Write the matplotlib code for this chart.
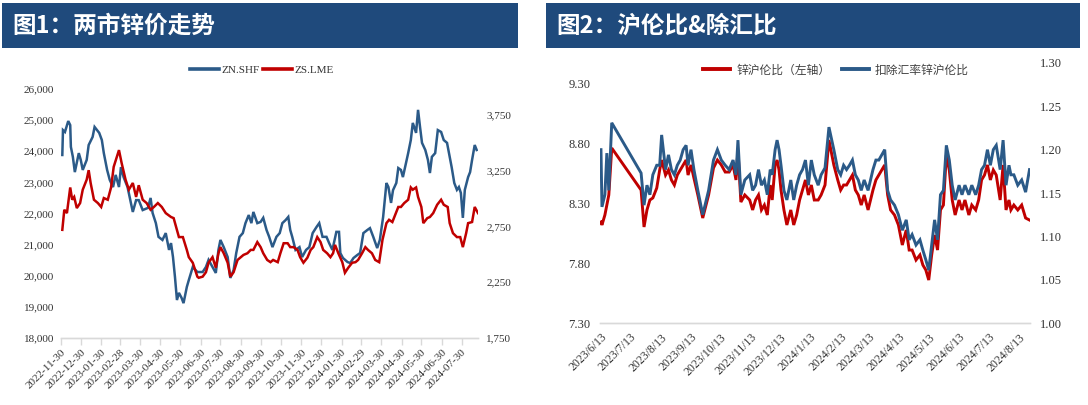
import matplotlib
matplotlib.use('Agg')
import matplotlib.pyplot as plt
import pandas as pd
from matplotlib.patches import Rectangle
from matplotlib.lines import Line2D
from matplotlib.ticker import FuncFormatter

# ---------------- data: chart 1 ----------------
title1 = "图1：两市锌价走势"
zn_label = "ZN.SHF"
zs_label = "ZS.LME"
zn_dates = ["2022-12-02", "2022-12-03", "2022-12-06", "2022-12-11", "2022-12-14", "2022-12-15", "2022-12-18",
            "2022-12-21", "2022-12-27", "2022-12-30", "2023-01-02", "2023-01-08", "2023-01-11", "2023-01-17",
            "2023-01-20", "2023-01-27", "2023-01-31", "2023-02-03", "2023-02-08", "2023-02-12", "2023-02-17",
            "2023-02-21", "2023-02-26", "2023-03-01", "2023-03-05", "2023-03-11", "2023-03-16", "2023-03-19",
            "2023-03-24", "2023-03-28", "2023-04-03", "2023-04-11", "2023-04-15", "2023-04-18", "2023-04-23",
            "2023-04-27", "2023-05-03", "2023-05-08", "2023-05-13", "2023-05-16", "2023-05-19", "2023-05-22",
            "2023-05-25", "2023-05-28", "2023-06-01", "2023-06-04", "2023-06-09", "2023-06-12", "2023-06-18",
            "2023-06-25", "2023-07-03", "2023-07-08", "2023-07-12", "2023-07-18", "2023-07-23", "2023-07-27",
            "2023-07-30", "2023-08-04", "2023-08-10", "2023-08-14", "2023-08-19", "2023-08-23", "2023-08-28",
            "2023-09-02", "2023-09-06", "2023-09-11", "2023-09-15", "2023-09-18", "2023-09-24", "2023-09-29",
            "2023-10-03", "2023-10-08", "2023-10-12", "2023-10-17", "2023-10-23", "2023-10-28", "2023-11-01",
            "2023-11-06", "2023-11-10", "2023-11-13", "2023-11-16", "2023-11-21", "2023-11-27", "2023-12-01",
            "2023-12-07", "2023-12-12", "2023-12-17", "2023-12-23", "2023-12-27", "2024-01-01", "2024-01-07",
            "2024-01-11", "2024-01-16", "2024-01-22", "2024-01-26", "2024-01-28", "2024-02-01", "2024-02-08",
            "2024-02-12", "2024-02-17", "2024-02-23", "2024-02-27", "2024-03-03", "2024-03-09", "2024-03-13",
            "2024-03-18", "2024-03-24", "2024-03-28", "2024-04-02", "2024-04-07", "2024-04-10", "2024-04-14",
            "2024-04-17", "2024-04-22", "2024-04-25", "2024-04-29", "2024-05-02", "2024-05-07", "2024-05-10",
            "2024-05-14", "2024-05-17", "2024-05-22", "2024-05-25", "2024-05-28", "2024-05-31", "2024-06-05",
            "2024-06-09", "2024-06-12", "2024-06-15", "2024-06-20", "2024-06-24", "2024-06-29", "2024-07-03",
            "2024-07-08", "2024-07-11", "2024-07-15", "2024-07-19", "2024-07-23", "2024-07-26", "2024-07-29",
            "2024-08-01", "2024-08-04", "2024-08-09", "2024-08-12", "2024-08-15", "2024-08-19", "2024-08-22"]
zn_values = [23880, 24680, 24620, 24970, 24840, 24140, 23820, 23330, 23940, 23720, 23400, 23720, 24200, 24460,
             24780, 24590, 24360, 23940, 23400, 23080, 22850, 23240, 22850, 23490, 23170, 22850, 22340, 22050,
             22430, 22430, 22110, 22180, 22500, 22020, 21690, 21250, 21150, 21370, 20830, 21050, 20600, 19960,
             19220, 19450, 19290, 19120, 19640, 19860, 20280, 20120, 20120, 20280, 20510, 20280, 20090, 20830,
             21150, 20920, 20600, 19930, 20180, 20730, 21250, 21370, 21690, 21950, 21690, 22050, 21690, 21730,
             21860, 21470, 21250, 20920, 21250, 21370, 21690, 21790, 21890, 21470, 21250, 20830, 20920, 20600,
             20830, 20920, 21370, 21570, 21690, 21250, 21250, 21050, 20830, 21410, 21410, 20730, 20570, 20440,
             20410, 20570, 20670, 20730, 21370, 21470, 21530, 21250, 20890, 21150, 21890, 22980, 22850, 22340,
             22750, 22980, 23460, 23400, 23170, 23650, 23940, 24360, 24910, 24590, 25330, 24780, 24270, 24040,
             23720, 23300, 23820, 23940, 24680, 24620, 24360, 24270, 23940, 23490, 22980, 22760, 22850, 22660,
             21860, 22760, 23170, 23330, 23720, 24200, 24040]
zs_dates = ["2022-12-02", "2022-12-05", "2022-12-09", "2022-12-14", "2022-12-17", "2022-12-20", "2022-12-24",
            "2022-12-29", "2023-01-02", "2023-01-08", "2023-01-11", "2023-01-14", "2023-01-19", "2023-01-25",
            "2023-01-30", "2023-02-03", "2023-02-09", "2023-02-14", "2023-02-18", "2023-02-26", "2023-03-02",
            "2023-03-08", "2023-03-13", "2023-03-19", "2023-03-24", "2023-03-28", "2023-04-03", "2023-04-09",
            "2023-04-15", "2023-04-20", "2023-04-26", "2023-05-02", "2023-05-08", "2023-05-16", "2023-05-20",
            "2023-05-28", "2023-06-03", "2023-06-09", "2023-06-12", "2023-06-18", "2023-06-25", "2023-06-27",
            "2023-07-03", "2023-07-08", "2023-07-12", "2023-07-18", "2023-07-23", "2023-07-27", "2023-07-30",
            "2023-08-04", "2023-08-10", "2023-08-14", "2023-08-19", "2023-08-25", "2023-08-30", "2023-09-03",
            "2023-09-09", "2023-09-14", "2023-09-18", "2023-09-24", "2023-09-29", "2023-10-03", "2023-10-09",
            "2023-10-14", "2023-10-18", "2023-10-25", "2023-10-29", "2023-11-03", "2023-11-09", "2023-11-13",
            "2023-11-18", "2023-11-24", "2023-11-28", "2023-12-03", "2023-12-09", "2023-12-14", "2023-12-18",
            "2023-12-24", "2023-12-29", "2024-01-02", "2024-01-08", "2024-01-13", "2024-01-17", "2024-01-20",
            "2024-01-25", "2024-01-31", "2024-02-04", "2024-02-09", "2024-02-15", "2024-02-20", "2024-02-24",
            "2024-03-01", "2024-03-06", "2024-03-10", "2024-03-16", "2024-03-21", "2024-03-27", "2024-04-01",
            "2024-04-07", "2024-04-11", "2024-04-16", "2024-04-19", "2024-04-25", "2024-04-29", "2024-05-04",
            "2024-05-10", "2024-05-14", "2024-05-17", "2024-05-22", "2024-05-25", "2024-05-30", "2024-06-02",
            "2024-06-08", "2024-06-12", "2024-06-17", "2024-06-23", "2024-06-29", "2024-07-03", "2024-07-09",
            "2024-07-12", "2024-07-17", "2024-07-23", "2024-07-28", "2024-08-01", "2024-08-06", "2024-08-09",
            "2024-08-15", "2024-08-19", "2024-08-24"]
zs_values = [2720, 2900, 2870, 3100, 2990, 3015, 2915, 2960, 3080, 3170, 3255, 3140, 2990, 2960, 2925, 3005,
             2990, 3100, 3285, 3435, 3320, 3170, 3080, 3140, 3015, 3120, 2990, 2960, 2900, 2925, 2960, 2925,
             2870, 2835, 2825, 2655, 2655, 2540, 2475, 2425, 2300, 2290, 2300, 2340, 2425, 2475, 2380, 2510,
             2565, 2510, 2425, 2300, 2340, 2450, 2475, 2495, 2510, 2540, 2540, 2610, 2565, 2510, 2450, 2430,
             2450, 2430, 2510, 2600, 2600, 2565, 2565, 2540, 2475, 2425, 2470, 2540, 2565, 2655, 2610, 2540,
             2510, 2475, 2510, 2585, 2510, 2430, 2335, 2380, 2425, 2430, 2450, 2510, 2565, 2540, 2510, 2450,
             2430, 2630, 2780, 2810, 2790, 2835, 2925, 2925, 2960, 2990, 3100, 3080, 3100, 3015, 2925, 2780,
             2825, 2835, 2870, 2945, 2990, 2945, 2925, 2780, 2690, 2655, 2655, 2565, 2690, 2780, 2790, 2925,
             2870]
left_ticks = ["2022-11-30", "2022-12-30", "2023-01-30", "2023-02-28", "2023-03-30", "2023-04-30", "2023-05-30",
              "2023-06-30", "2023-07-30", "2023-08-30", "2023-09-30", "2023-10-30", "2023-11-30", "2023-12-30",
              "2024-01-30", "2024-02-29", "2024-03-30", "2024-04-30", "2024-05-30", "2024-06-30", "2024-07-30"]
zn_yticks = [18000, 19000, 20000, 21000, 22000, 23000, 24000, 25000, 26000]
zs_yticks = [1750, 2250, 2750, 3250, 3750]

# ---------------- data: chart 2 ----------------
title2 = "图2：沪伦比&除汇比"
ratio_label = "锌沪伦比（左轴）"
adj_label = "扣除汇率锌沪伦比"
ratio_dates = ["2023-06-13", "2023-06-14", "2023-06-17", "2023-06-19", "2023-06-21", "2023-06-24", "2023-07-24",
               "2023-07-27", "2023-07-30", "2023-08-02", "2023-08-05", "2023-08-09", "2023-08-12", "2023-08-14",
               "2023-08-18", "2023-08-21", "2023-08-24", "2023-08-27", "2023-08-30", "2023-09-02", "2023-09-05",
               "2023-09-08", "2023-09-10", "2023-09-13", "2023-09-16", "2023-09-20", "2023-09-25", "2023-10-01",
               "2023-10-06", "2023-10-10", "2023-10-14", "2023-10-18", "2023-10-22", "2023-10-26", "2023-10-29",
               "2023-10-31", "2023-11-03", "2023-11-07", "2023-11-12", "2023-11-15", "2023-11-18", "2023-11-21",
               "2023-11-24", "2023-11-27", "2023-11-30", "2023-12-03", "2023-12-05", "2023-12-08", "2023-12-10",
               "2023-12-12", "2023-12-14", "2023-12-17", "2023-12-20", "2023-12-24", "2023-12-27", "2023-12-30",
               "2024-01-02", "2024-01-05", "2024-01-08", "2024-01-11", "2024-01-14", "2024-01-17", "2024-01-21",
               "2024-01-24", "2024-01-28", "2024-02-01", "2024-02-06", "2024-02-10", "2024-02-13", "2024-02-16",
               "2024-02-19", "2024-02-22", "2024-02-25", "2024-02-28", "2024-03-02", "2024-03-05", "2024-03-08",
               "2024-03-12", "2024-03-17", "2024-03-20", "2024-03-23", "2024-03-26", "2024-03-29", "2024-04-01",
               "2024-04-04", "2024-04-08", "2024-04-12", "2024-04-16", "2024-04-20", "2024-04-23", "2024-04-26",
               "2024-04-30", "2024-05-04", "2024-05-07", "2024-05-10", "2024-05-13", "2024-05-16", "2024-05-19",
               "2024-05-22", "2024-05-25", "2024-05-28", "2024-05-31", "2024-06-03", "2024-06-06", "2024-06-09",
               "2024-06-13", "2024-06-16", "2024-06-19", "2024-06-23", "2024-06-26", "2024-06-30", "2024-07-03",
               "2024-07-06", "2024-07-09", "2024-07-12", "2024-07-15", "2024-07-18", "2024-07-21", "2024-07-25",
               "2024-07-28", "2024-07-31", "2024-08-03", "2024-08-05", "2024-08-08", "2024-08-12", "2024-08-16",
               "2024-08-20", "2024-08-24"]
shlme_ratio = [8.142, 8.117, 8.20, 8.283, 8.367, 8.758, 8.408, 8.10, 8.242, 8.325, 8.342, 8.425, 8.575, 8.658,
               8.533, 8.575, 8.492, 8.45, 8.533, 8.575, 8.617, 8.658, 8.533, 8.617, 8.508, 8.367, 8.175, 8.367,
               8.592, 8.658, 8.617, 8.558, 8.558, 8.617, 8.492, 8.742, 8.308, 8.367, 8.325, 8.242, 8.325, 8.367,
               8.242, 8.283, 8.20, 8.45, 8.325, 8.617, 8.658, 8.575, 8.408, 8.242, 8.117, 8.242, 8.117, 8.20,
               8.325, 8.408, 8.492, 8.367, 8.45, 8.325, 8.325, 8.367, 8.45, 8.825, 8.617, 8.492, 8.408, 8.45,
               8.45, 8.492, 8.533, 8.408, 8.367, 8.283, 8.367, 8.242, 8.408, 8.492, 8.533, 8.575, 8.617, 8.367,
               8.242, 8.20, 8.117, 7.95, 8.075, 7.908, 7.908, 7.825, 7.867, 7.783, 7.742, 7.658, 7.867, 8.033,
               7.908, 8.242, 8.283, 8.70, 8.575, 8.325, 8.20, 8.325, 8.242, 8.325, 8.20, 8.283, 8.242, 8.325,
               8.492, 8.533, 8.617, 8.492, 8.575, 8.533, 8.325, 8.617, 8.242, 8.325, 8.242, 8.283, 8.242, 8.283,
               8.175, 8.158]
adj_ratio = [1.200, 1.134, 1.148, 1.196, 1.153, 1.231, 1.173, 1.136, 1.159, 1.148, 1.171, 1.182, 1.182, 1.217,
             1.177, 1.194, 1.177, 1.171, 1.182, 1.188, 1.200, 1.205, 1.182, 1.200, 1.177, 1.153, 1.125, 1.153,
             1.188, 1.200, 1.188, 1.182, 1.177, 1.188, 1.171, 1.211, 1.148, 1.165, 1.171, 1.153, 1.159, 1.177,
             1.159, 1.165, 1.148, 1.177, 1.171, 1.200, 1.211, 1.200, 1.182, 1.153, 1.142, 1.165, 1.142, 1.159,
             1.171, 1.177, 1.188, 1.159, 1.188, 1.171, 1.159, 1.171, 1.179, 1.226, 1.200, 1.177, 1.171, 1.182,
             1.177, 1.182, 1.188, 1.171, 1.165, 1.153, 1.165, 1.153, 1.177, 1.188, 1.188, 1.194, 1.200, 1.153,
             1.142, 1.136, 1.125, 1.107, 1.119, 1.096, 1.102, 1.090, 1.096, 1.084, 1.073, 1.061, 1.090, 1.119,
             1.096, 1.148, 1.153, 1.205, 1.188, 1.159, 1.142, 1.159, 1.148, 1.159, 1.148, 1.159, 1.148, 1.159,
             1.177, 1.182, 1.200, 1.182, 1.200, 1.205, 1.177, 1.211, 1.159, 1.182, 1.171, 1.171, 1.159, 1.165,
             1.151, 1.177]
right_ticks = ["2023-06-13", "2023-07-13", "2023-08-13", "2023-09-13", "2023-10-13", "2023-11-13", "2023-12-13",
               "2024-01-13", "2024-02-13", "2024-03-13", "2024-04-13", "2024-05-13", "2024-06-13", "2024-07-13",
               "2024-08-13"]
ratio_yticks = [7.30, 7.80, 8.30, 8.80, 9.30]
adj_yticks = [1.00, 1.05, 1.10, 1.15, 1.20, 1.25, 1.30]

# ---------------- style ----------------
W, H = 1088, 405
CJK = ['Noto Sans CJK SC', 'DejaVu Sans']
SERIF = ['Liberation Serif', 'DejaVu Serif']
BLUE = '#2B5A88'
RED = '#C00000'
HEADER = '#1F4A7C'
AXIS_GRAY = '#D9D9D9'
TXT = '#333333'

fig = plt.figure(figsize=(W / 100, H / 100), dpi=100)
fig.patch.set_facecolor('white')


def fx(px):
    return px / W


def fy(py):
    return 1 - py / H


# header bars
for x0, x1, title in [(2, 518, title1), (546, 1080, title2)]:
    fig.patches.append(Rectangle((fx(x0), fy(48)), fx(x1) - fx(x0), fy(3) - fy(48),
                                 transform=fig.transFigure, facecolor=HEADER, edgecolor='none'))
    fig.text(fx(x0 + 10), fy(26), title, color='white', fontsize=17, fontweight='bold',
             family=CJK, va='center', ha='left')


def style_axes(ax):
    for s in ['top', 'left', 'right']:
        ax.spines[s].set_visible(False)
    ax.spines['bottom'].set_color(AXIS_GRAY)
    ax.spines['bottom'].set_linewidth(1.0)
    ax.patch.set_alpha(0)


# ---------------- chart 1 ----------------
ax1 = fig.add_axes([fx(61), fy(338), fx(478) - fx(61), fy(89) - fy(338)])
ax1b = ax1.twinx()
ax1.plot(pd.to_datetime(zn_dates), zn_values, color=BLUE, lw=1.8, solid_joinstyle='miter')
ax1b.plot(pd.to_datetime(zs_dates), zs_values, color=RED, lw=1.8, solid_joinstyle='miter')
ax1.set_xlim(pd.Timestamp("2022-11-30"), pd.Timestamp("2024-08-24"))
ax1.set_ylim(18000, 26000)
ax1b.set_ylim(1750, 3983)
ax1.set_yticks(zn_yticks)
ax1b.set_yticks(zs_yticks)
comma = FuncFormatter(lambda v, p: f"{int(round(v)):,}")
ax1.yaxis.set_major_formatter(comma)
ax1b.yaxis.set_major_formatter(comma)
lt = pd.to_datetime(left_ticks)
ax1.set_xticks(lt)
ax1.set_xticklabels(left_ticks, rotation=45, ha='right', rotation_mode='anchor')
for a in (ax1, ax1b):
    style_axes(a)
ax1.tick_params(axis='x', length=5, color=AXIS_GRAY, width=1, pad=2, labelsize=8, labelcolor=TXT)
ax1.tick_params(axis='y', length=0, pad=5, labelsize=8, labelcolor=TXT)
ax1b.tick_params(axis='y', length=0, pad=6, labelsize=8, labelcolor=TXT)
for lab in ax1.get_xticklabels() + ax1.get_yticklabels() + ax1b.get_yticklabels():
    lab.set_family(SERIF)

h1 = [Line2D([], [], color=BLUE, lw=2.6), Line2D([], [], color=RED, lw=2.6)]
fig.legend(h1, [zn_label, zs_label], loc='center', bbox_to_anchor=(fx(262), fy(70)), ncol=2,
           frameon=False, prop={'family': SERIF, 'size': 8}, handlelength=2.6, handletextpad=0.2,
           columnspacing=0.3, labelcolor=TXT)

# ---------------- chart 2 ----------------
ax2 = fig.add_axes([fx(600), fy(323), fx(1030) - fx(600), fy(63) - fy(323)])
ax2b = ax2.twinx()
ax2.plot(pd.to_datetime(ratio_dates), shlme_ratio, color=RED, lw=2.1, solid_joinstyle='miter')
ax2b.plot(pd.to_datetime(ratio_dates), adj_ratio, color=BLUE, lw=2.1, solid_joinstyle='miter')
ax2.set_xlim(pd.Timestamp("2023-06-12"), pd.Timestamp("2024-08-24 12:00"))
ax2.set_ylim(7.30, 9.4667)
ax2b.set_ylim(1.00, 1.30)
ax2.set_yticks(ratio_yticks)
ax2b.set_yticks(adj_yticks)
ax2.yaxis.set_major_formatter(FuncFormatter(lambda v, p: f"{v:.2f}"))
ax2b.yaxis.set_major_formatter(FuncFormatter(lambda v, p: f"{v:.2f}"))
rt = pd.to_datetime(right_ticks)
ax2.set_xticks(rt)
ax2.set_xticklabels([f"{d.year}/{d.month}/{d.day}" for d in rt], rotation=45, ha='right',
                    rotation_mode='anchor')
for a in (ax2, ax2b):
    style_axes(a)
ax2.tick_params(axis='x', length=0, pad=6, labelsize=8.5, labelcolor=TXT)
ax2.tick_params(axis='y', length=0, pad=7, labelsize=9, labelcolor=TXT)
ax2b.tick_params(axis='y', length=0, pad=7, labelsize=9, labelcolor=TXT)
for lab in ax2.get_xticklabels() + ax2.get_yticklabels() + ax2b.get_yticklabels():
    lab.set_family(SERIF)

h2 = [Line2D([], [], color=RED, lw=2.8), Line2D([], [], color=BLUE, lw=2.8)]
fig.legend(h2, [ratio_label, adj_label], loc='center', bbox_to_anchor=(fx(836), fy(70)), ncol=2,
           frameon=False, prop={'family': CJK, 'size': 8.5}, handlelength=2.3, handletextpad=0.5,
           columnspacing=1.0, labelcolor='#404040')

fig.savefig('out.png', dpi=100, facecolor='white')
